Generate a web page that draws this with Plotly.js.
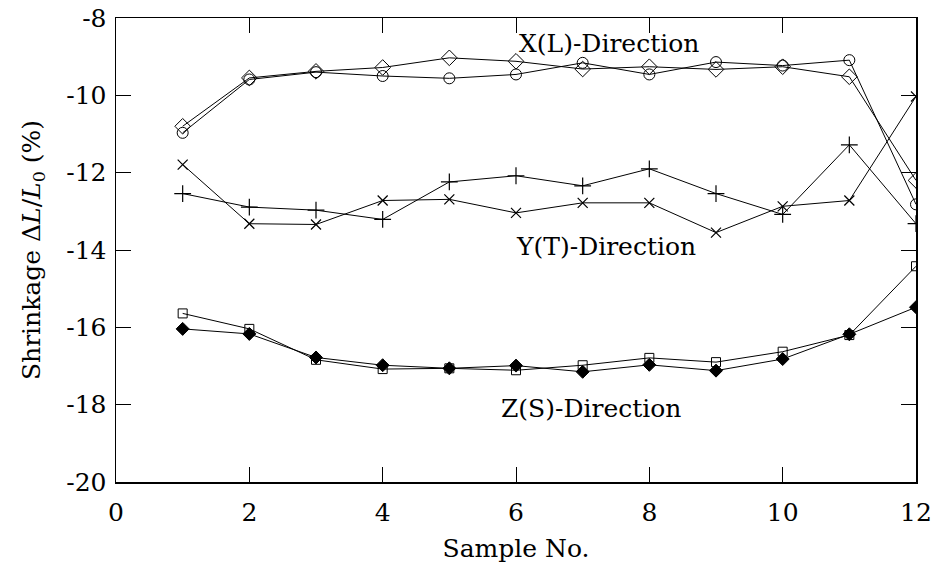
<!DOCTYPE html>
<html>
<head>
<meta charset="utf-8">
<script src="https://cdn.plot.ly/plotly-3.0.1.min.js"></script>
<style>body{margin:0;padding:0;background:#fff}#chart{width:936px;height:567px}</style>
</head>
<body>
<div id="chart"></div>
<script>
const samples = [1,2,3,4,5,6,7,8,9,10,11,12];
const xDiamond = [-10.80,-9.55,-9.38,-9.28,-9.03,-9.12,-9.32,-9.26,-9.33,-9.26,-9.52,-12.20];
const xCircle  = [-10.97,-9.59,-9.40,-9.50,-9.56,-9.46,-9.16,-9.46,-9.14,-9.23,-9.09,-12.82];
const yPlus    = [-12.54,-12.89,-12.97,-13.21,-12.24,-12.08,-12.34,-11.90,-12.54,-13.08,-11.28,-13.32];
const yCross   = [-11.79,-13.32,-13.34,-12.72,-12.69,-13.04,-12.78,-12.78,-13.55,-12.87,-12.72,-10.03];
const zSquare  = [-15.64,-16.04,-16.84,-17.08,-17.06,-17.11,-16.98,-16.79,-16.90,-16.63,-16.20,-14.42];
const zDiamond = [-16.04,-16.17,-16.78,-16.98,-17.06,-16.99,-17.15,-16.97,-17.12,-16.82,-16.18,-15.48];
const labels = [
  {text:'X(L)-Direction', x:7.4, y:-8.66},
  {text:'Y(T)-Direction', x:7.35, y:-13.9},
  {text:'Z(S)-Direction', x:7.13, y:-18.1}
];
const xTicks = [0,2,4,6,8,10,12];
const yTicks = [-20,-18,-16,-14,-12,-10,-8];

function tr(y, sym, size, lw){
  return {x:samples, y:y, type:'scatter', mode:'lines+markers',
    line:{color:'#000', width:1},
    marker:{symbol:sym, size:size, color:'#000', line:{color:'#000', width:lw||1}},
    showlegend:false, hoverinfo:'skip'};
}
const data = [
  tr(xDiamond,'diamond-open',12),
  tr(xCircle,'circle-open',11),
  tr(yPlus,'cross-thin-open',12,1.2),
  tr(yCross,'x-thin-open',10,1.2),
  tr(zSquare,'square-open',9),
  tr(zDiamond,'diamond',10)
];
const font = {family:'"DejaVu Serif", "Liberation Serif", serif', size:25, color:'#000'};
const axisCommon = {showgrid:false, zeroline:false, showline:true, linecolor:'#000', linewidth:1.5,
  mirror:'ticks', ticks:'inside', ticklen:15, tickwidth:1, tickcolor:'#000', tickfont:font};
const layout = {
  width:936, height:567,
  margin:{l:116, r:20, t:17.5, b:85},
  paper_bgcolor:'#fff', plot_bgcolor:'#fff',
  font:font,
  xaxis:Object.assign({}, axisCommon, {range:[0,12], tickvals:xTicks, ticktext:xTicks.map(String),
    ticklabelstandoff:7,
    title:{text:'Sample No.', font:font, standoff:14}}),
  yaxis:Object.assign({}, axisCommon, {range:[-20,-8], tickvals:yTicks, ticktext:yTicks.map(String),
    ticklabelstandoff:3,
    title:{text:'Shrinkage Δ<i>L</i>/<i>L</i><sub>0</sub> (%)', font:font, standoff:18}}),
  annotations: labels.map(l => ({text:l.text, x:l.x, y:l.y, xref:'x', yref:'y', showarrow:false, font:font}))
};
Plotly.newPlot('chart', data, layout, {staticPlot:true, displayModeBar:false});
</script>
</body>
</html>
